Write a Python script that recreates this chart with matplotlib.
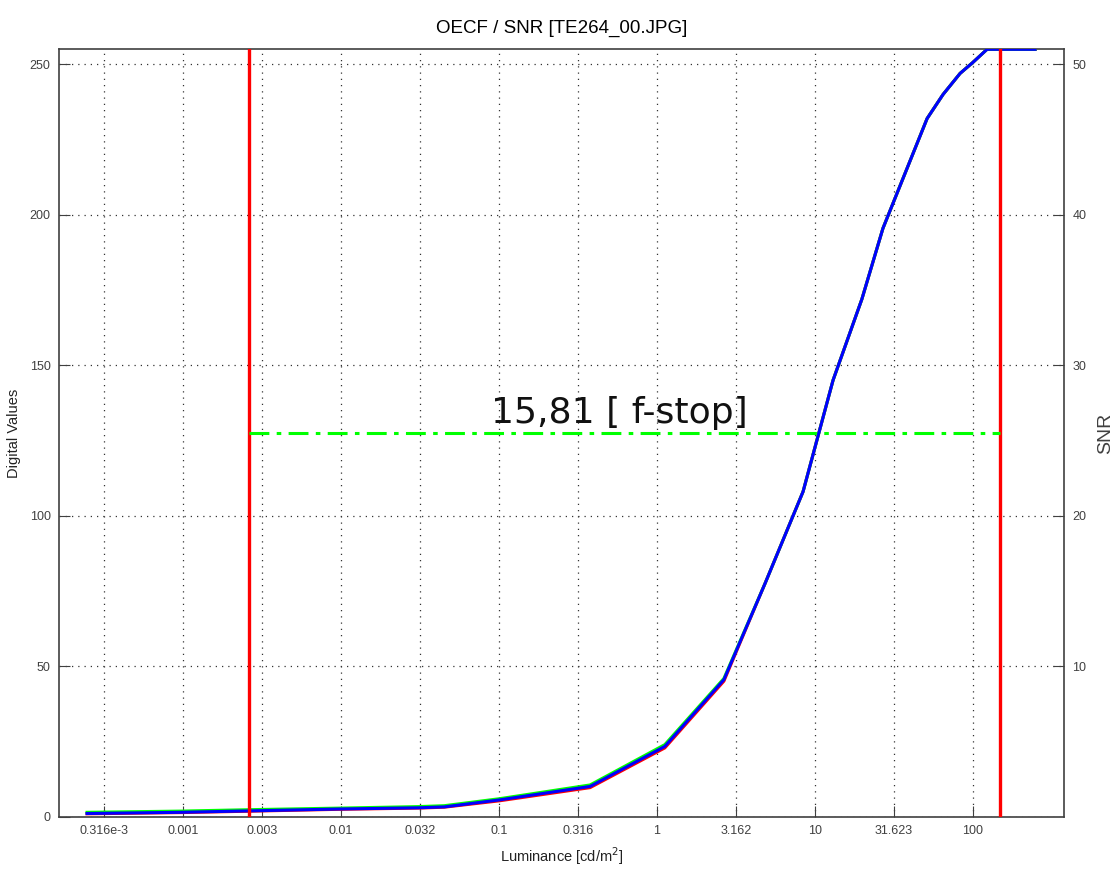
import numpy as np
import matplotlib
matplotlib.use("Agg")
import matplotlib.pyplot as plt
from matplotlib.ticker import FixedLocator, NullLocator

# luminance [cd/m^2] vs digital values
lum = [2.47e-4, 9.6e-4, 2.8e-3, 0.0098, 0.031, 0.045, 0.1, 0.377, 1.12, 2.65,
       4.83, 8.4, 13.0, 19.8, 26.9, 51.2, 64.6, 82.8, 100.0, 122.6, 247.0]
dv_blue = [1.0, 1.4, 1.9, 2.5, 2.9, 3.2, 5.5, 10.0, 23.3, 45.5,
           77.5, 108.0, 145.0, 172.0, 195.5, 232.0, 240.0, 247.0, 250.7, 255.0, 255.0]
dv_green = [1.4, 1.8, 2.3, 2.8, 3.3, 3.6, 5.9, 10.5, 23.9, 45.9,
            77.5, 108.0, 145.0, 172.0, 195.5, 232.0, 240.0, 247.0, 250.7, 255.0, 255.0]
dv_red = [0.9, 1.3, 1.8, 2.4, 2.8, 3.1, 5.2, 9.6, 22.8, 45.0,
          77.5, 108.0, 145.0, 172.0, 195.5, 232.0, 240.0, 247.0, 250.7, 255.0, 255.0]

lum_lo = 0.0026   # dynamic range limits
lum_hi = 148.4
mid_dv = 127.5
range_txt = "15,81 [ f-stop]"

xtick_pos = [10**-3.5, 1e-3, 10**-2.5, 1e-2, 10**-1.5, 0.1, 10**-0.5, 1, 10**0.5, 10, 10**1.5, 100]
xtick_lbl = ['0.316e-3', '0.001', '0.003', '0.01', '0.032', '0.1', '0.316', '1',
             '3.162', '10', '31.623', '100']
ytick_l = [0, 50, 100, 150, 200, 250]
ytick_r = [10, 20, 30, 40, 50]

plt.rcParams['font.family'] = ['Liberation Sans', 'DejaVu Sans']
gray = '#404040'

fig = plt.figure(figsize=(11.19, 8.76), dpi=100)
ax = fig.add_axes([0.0527, 0.0679, 0.8982, 0.8758])
ax.set_xscale('log')
ax.set_xlim(10**-3.785, 10**2.576)
ax.set_ylim(0, 255)

ax.plot(lum, dv_red, color='red', lw=2.2, zorder=3)
ax.plot(lum, dv_green, color='#00ff00', lw=2.2, zorder=4)
ax.plot(lum, dv_blue, color='blue', lw=2.2, zorder=5)

ax.axvline(lum_lo, color='red', lw=2.4, zorder=6)
ax.axvline(lum_hi, color='red', lw=2.4, zorder=6)
ax.plot([lum_lo, lum_hi], [mid_dv, mid_dv], color='#00ff00', lw=2.2,
        ls=(0, (6.5, 2.4, 1.5, 2.4)), zorder=6)
ax.text(10**-0.24, mid_dv + 1, range_txt, fontsize=26, family='DejaVu Sans',
        color='#111111', ha='center', va='bottom', zorder=7)

ax.xaxis.set_major_locator(FixedLocator(xtick_pos))
ax.xaxis.set_minor_locator(NullLocator())
ax.set_xticklabels(xtick_lbl)
ax.set_yticks(ytick_l)
ax.grid(True, which='major', color='#333333', ls=(0, (1, 4)), lw=0.9)
ax.tick_params(direction='in', length=8, color=gray, labelcolor=gray,
               labelsize=9, pad=6)
for s in ax.spines.values():
    s.set_color(gray)
    s.set_linewidth(1.2)

ax.set_title('OECF / SNR [TE264_00.JPG]', fontsize=13.5, pad=12)
ax.set_xlabel('Luminance [cd/m$^2$]', fontsize=10.5, color='#222222', labelpad=6)
ax.set_ylabel('Digital Values', fontsize=10.5, color='#222222', labelpad=6)

ax2 = ax.twinx()
ax2.set_ylim(0, 51)
ax2.set_yticks(ytick_r)
ax2.tick_params(direction='in', length=8, color=gray, labelcolor=gray,
                labelsize=9, pad=6)
for s in ax2.spines.values():
    s.set_visible(False)
ax2.set_ylabel('SNR', fontsize=14, color=gray, labelpad=8)

fig.savefig('out.png', dpi=100)
